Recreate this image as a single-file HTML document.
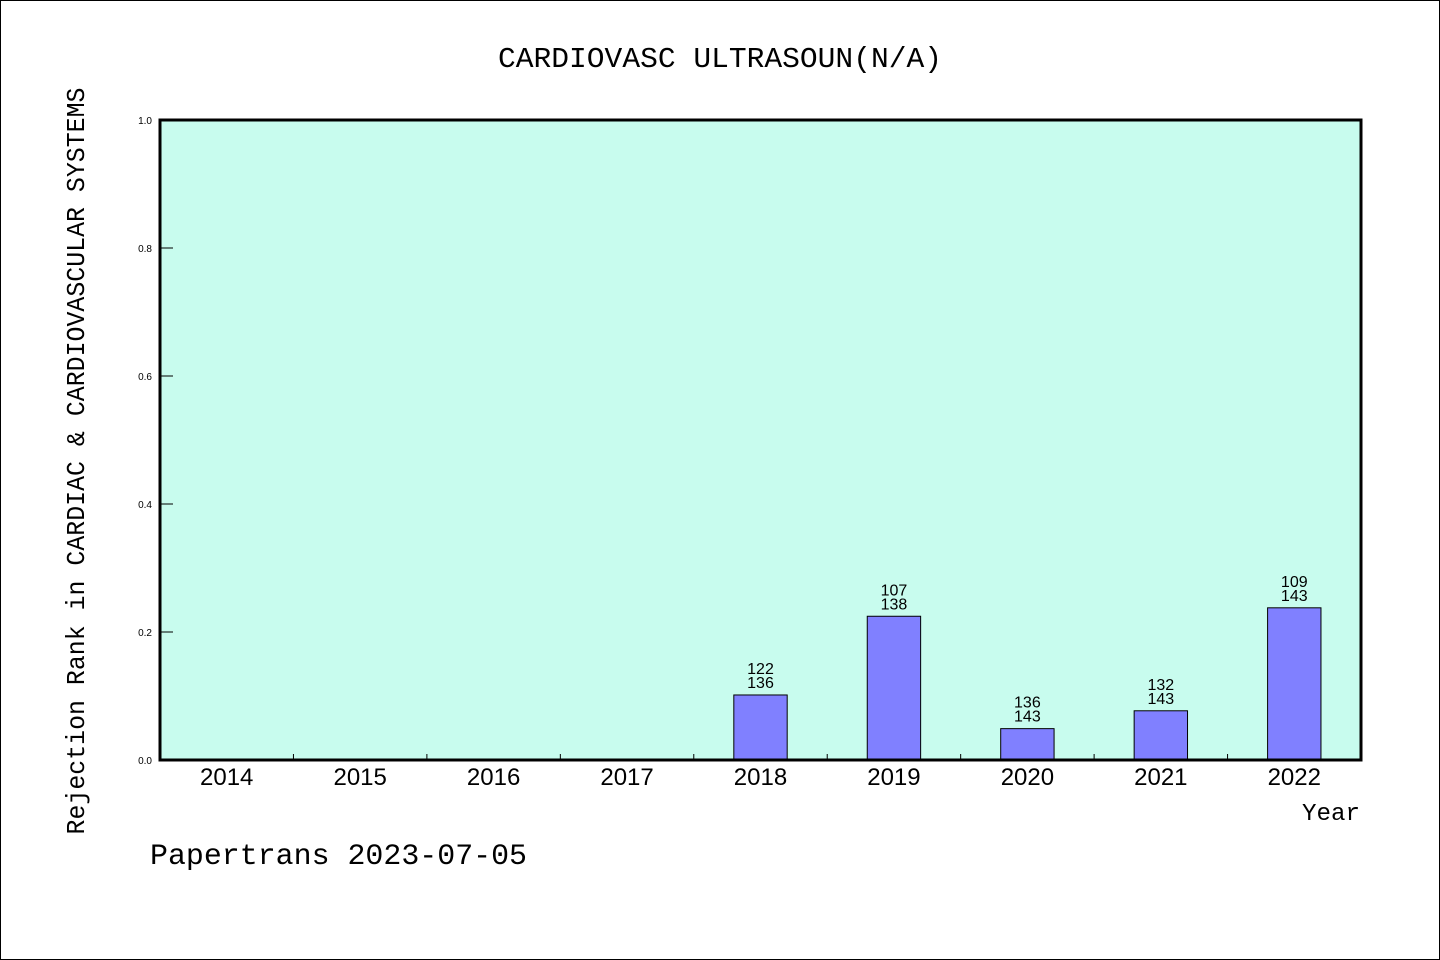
<!DOCTYPE html>
<html><head><meta charset="utf-8"><style>html,body{margin:0;padding:0;background:#fff}svg{display:block}</style></head>
<body>
<svg id="chart" width="1440" height="960" xmlns="http://www.w3.org/2000/svg" font-family="'Liberation Mono', 'WenQuanYi Zen Hei', monospace">
<rect x="0.5" y="0.5" width="1439" height="959" fill="#fff" stroke="#000"/>
<text x="720" y="67" font-size="29" text-anchor="middle" textLength="444" lengthAdjust="spacingAndGlyphs">CARDIOVASC ULTRASOUN(N/A)</text>
<rect x="160" y="120" width="1201" height="640" fill="#c8fcee"/>
<g id="marks"></g>
<rect x="160" y="120" width="1201" height="640" fill="none" stroke="#000" stroke-width="3"/>
<text transform="translate(84,461) rotate(-90)" font-size="26" text-anchor="middle" textLength="747" lengthAdjust="spacingAndGlyphs">Rejection Rank in CARDIAC &amp; CARDIOVASCULAR SYSTEMS</text>
<text x="1360" y="820" font-size="24" text-anchor="end" textLength="58" lengthAdjust="spacingAndGlyphs">Year</text>
<text x="150" y="864" font-size="30" textLength="377" lengthAdjust="spacingAndGlyphs">Papertrans 2023-07-05</text>
</svg>
<script>
const categories = ['2014','2015','2016','2017','2018','2019','2020','2021','2022'];
const values = [null,null,null,null,0.1016,0.2246,0.0490,0.0769,0.2378];
const labelTop = ['','','','','122','107','136','132','109'];
const labelBottom = ['','','','','136','138','143','143','143'];
const yTicks = [0,0.2,0.4,0.6,0.8,1.0];
const yTickLabels = ['0.0','0.2','0.4','0.6','0.8','1.0'];

const X0=160,X1=1361,Y0=760,Y1=120;
const slot=(X1-X0)/categories.length;
const xC=i=>X0+slot*(i+0.5);
const yS=v=>Y0-(v/1.0)*(Y0-Y1);
const NS='http://www.w3.org/2000/svg';
const g=document.getElementById('marks');
function mk(tag,attrs){const e=document.createElementNS(NS,tag);for(const k in attrs)e.setAttribute(k,attrs[k]);g.appendChild(e);return e;}

yTicks.forEach((t,i)=>{
  const l=mk('line',{x1:X0,x2:X0+13,y1:yS(t),y2:yS(t),stroke:'#000','stroke-width':1});
  
  
  const tx=mk('text',{x:X0-8,y:yS(t)+4,'font-size':10,'text-anchor':'end','font-family':'Liberation Sans, sans-serif'});
  tx.textContent=yTickLabels[i];
  
  
});
categories.forEach((c,i)=>{
  if(i>0){
    const l=mk('line',{x1:X0+slot*i,x2:X0+slot*i,y1:Y0,y2:Y0-6,stroke:'#000','stroke-width':1});
    
    
  }
  const tx=mk('text',{x:xC(i),y:Y0+25,'font-size':24,'text-anchor':'middle','font-family':'Liberation Sans, sans-serif'});
  tx.textContent=c;
  
  
  const v=values[i];
  if(v!=null){
    const w=slot*0.4;
    const r=mk('rect',{x:xC(i)-w/2,y:yS(v),width:w,height:Y0-yS(v),fill:'#8080ff',stroke:'#000','stroke-width':1});
    
    
    const t1=mk('text',{x:xC(i),y:yS(v)-21,'font-size':16,'text-anchor':'middle','font-family':'Liberation Sans, sans-serif'});
    t1.textContent=labelTop[i];
    
    
    const t2=mk('text',{x:xC(i),y:yS(v)-7,'font-size':16,'text-anchor':'middle','font-family':'Liberation Sans, sans-serif'});
    t2.textContent=labelBottom[i];
    
    
  }
});
</script>
</body></html>
